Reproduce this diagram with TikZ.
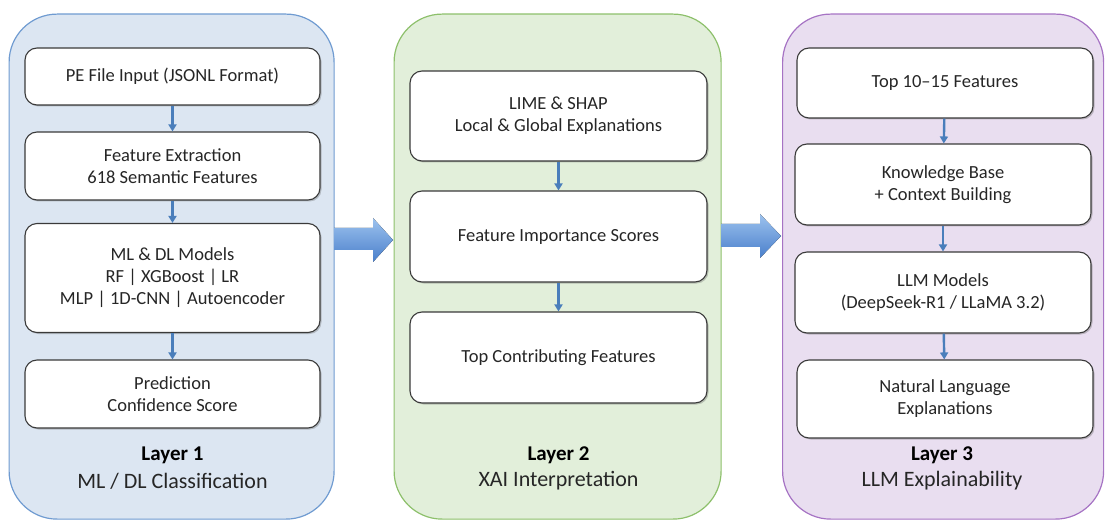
\documentclass[tikz,border=0pt]{standalone}
\usepackage{fontspec}
\setmainfont{Carlito}
\usetikzlibrary{arrows.meta,shadows,calc}
\definecolor{p1fill}{HTML}{DCE6F2}
\definecolor{p1draw}{HTML}{6F9BD1}
\definecolor{p2fill}{HTML}{E2EFDA}
\definecolor{p2draw}{HTML}{8DC06B}
\definecolor{p3fill}{HTML}{E9DEF0}
\definecolor{p3draw}{HTML}{A673C4}
\definecolor{conncol}{HTML}{4A7EBB}
\definecolor{txt}{HTML}{262626}
\definecolor{bordcol}{HTML}{3A3A3A}
\definecolor{arrtop}{HTML}{9CC2EE}
\definecolor{arrbot}{HTML}{4A7FCB}
\tikzset{
  panel/.style={draw=#1draw, fill=#1fill, line width=1.2pt, rounded corners=48pt, anchor=north west, inner sep=0pt},
  stepbox/.style={draw=bordcol, fill=white, line width=1.1pt, rounded corners=12pt, align=center,
     text=txt, font=\fontsize{18.5}{22}\selectfont, inner sep=0pt,
     drop shadow={shadow xshift=1.5pt, shadow yshift=-1.5pt, opacity=0.35, fill=black!60}},
  conn/.style={draw=conncol, line width=2.4pt, -{Triangle[width=8pt,length=7pt]}},
  laytitle/.style={text=black, font=\fontsize{21}{24}\selectfont\bfseries},
  laysub/.style={text=txt, font=\fontsize{22}{25}\selectfont},
  blockarrow/.style={top color=arrtop, bottom color=arrbot, draw=none}
}
\begin{document}
\begin{tikzpicture}[x=1pt,y=-1pt]
\useasboundingbox (0,0) rectangle (1105,521);
% panels
\node[panel=p1, minimum width=325pt, minimum height=505pt] (P1) at (8.5,13.5) {};
\node[panel=p2, minimum width=327pt, minimum height=505pt] (P2) at (393.5,13.5) {};
\node[panel=p3, minimum width=321pt, minimum height=505pt] (P3) at (782,13.5) {};
% block arrows
\fill[blockarrow] (334,228) -- (373,228) -- (373,218) -- (393,240) -- (373,262) -- (373,250) -- (334,250) -- cycle;
\fill[blockarrow] (721,224) -- (760,224) -- (760,214) -- (781,236) -- (760,258) -- (760,247) -- (721,247) -- cycle;
% layer 1
\node[stepbox, minimum width=295pt, minimum height=57pt] (a1) at (172.5,76.5) {PE File Input (JSONL Format)};
\node[stepbox, minimum width=295pt, minimum height=68pt] (a2) at (172.5,166) {Feature Extraction\\618 Semantic Features};
\node[stepbox, minimum width=295pt, minimum height=109pt] (a3) at (172.5,278) {ML \& DL Models\\RF | XGBoost | LR\\MLP | 1D-CNN | Autoencoder};
\node[stepbox, minimum width=295pt, minimum height=68pt] (a4) at (172.5,394) {Prediction\\Confidence Score};
\node[laytitle] (l1t) at (172.5,455) {Layer 1};
\node[laysub] (l1s) at (172.5,481) {ML / DL Classification};
\draw[conn] (a1) -- (a2);
\draw[conn] (a2) -- (a3);
\draw[conn] (a3) -- (a4);
% layer 2
\node[stepbox, minimum width=297pt, minimum height=90pt] (b1) at (558.5,116) {LIME \& SHAP\\Local \& Global Explanations};
\node[stepbox, minimum width=297pt, minimum height=91pt] (b2) at (558.5,236.5) {Feature Importance Scores};
\node[stepbox, minimum width=297pt, minimum height=91pt] (b3) at (558.5,357.5) {Top Contributing Features};
\node[laytitle] (l2t) at (558.5,455) {Layer 2};
\node[laysub] (l2s) at (558.5,481) {XAI Interpretation};
\draw[conn] (b1) -- (b2);
\draw[conn] (b2) -- (b3);
% layer 3
\node[stepbox, minimum width=296pt, minimum height=70pt] (c1) at (945,83) {Top 10--15 Features};
\node[stepbox, minimum width=296pt, minimum height=81pt] (c2) at (943,184.5) {Knowledge Base\\+ Context Building};
\node[stepbox, minimum width=296pt, minimum height=81pt] (c3) at (943,292.5) {LLM Models\\(DeepSeek-R1 / LLaMA 3.2)};
\node[stepbox, minimum width=296pt, minimum height=78pt] (c4) at (945,399) {Natural Language\\Explanations};
\node[laytitle] (l3t) at (942,455) {Layer 3};
\node[laysub] (l3s) at (942,481) {LLM Explainability};
\draw[conn] (c1) -- (c2);
\draw[conn] (c2) -- (c3);
\draw[conn] (c3) -- (c4);
\end{tikzpicture}
\end{document}
